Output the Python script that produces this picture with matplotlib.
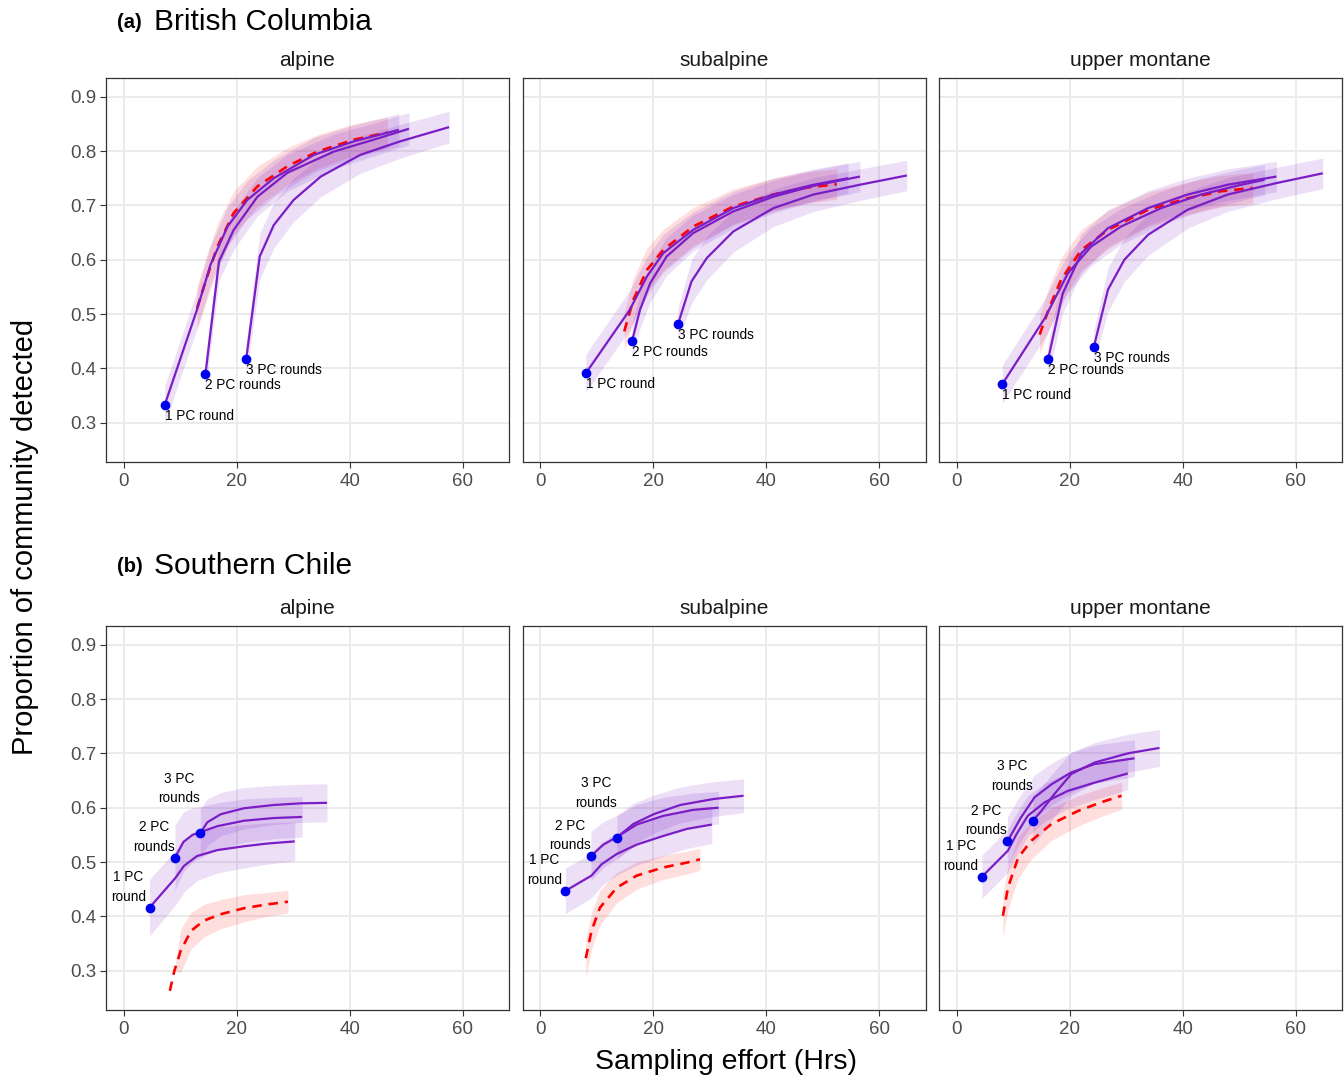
import numpy as np
import matplotlib
matplotlib.use("Agg")
import matplotlib.pyplot as plt

plt.rcParams['font.family'] = ['Liberation Sans', 'DejaVu Sans']

# ---------------- data ----------------
REGIONS = ["(a)", "(b)"]
REGION_NAMES = ["British Columbia", "Southern Chile"]
HABITATS = ["alpine", "subalpine", "upper montane"]
X_TICKS = [0, 20, 40, 60]
Y_TICKS = [0.3, 0.4, 0.5, 0.6, 0.7, 0.8, 0.9]
ROW_A_LABELS = ["1 PC round", "2 PC rounds", "3 PC rounds"]
ROW_B_LABELS = ["1 PC\nround", "2 PC\nrounds", "3 PC\nrounds"]

# (a) British Columbia - alpine
A_ALP_R1_X = [7.3, 13.0, 15.4, 18.4, 21.9, 26.6, 33.7, 40.8, 48.7]
A_ALP_R1_Y = [0.333, 0.508, 0.591, 0.661, 0.710, 0.750, 0.793, 0.818, 0.839]
A_ALP_R1_H = [0.035, 0.035, 0.036, 0.036, 0.035, 0.034, 0.032, 0.030, 0.030]
A_ALP_R2_X = [14.5, 16.9, 19.5, 23.7, 29.0, 37.2, 44.3, 50.5]
A_ALP_R2_Y = [0.390, 0.597, 0.655, 0.716, 0.760, 0.799, 0.821, 0.841]
A_ALP_R2_H = [0.030, 0.035, 0.036, 0.035, 0.034, 0.032, 0.030, 0.030]
A_ALP_R3_X = [21.7, 24.1, 26.6, 30.1, 34.9, 41.9, 49.0, 57.6]
A_ALP_R3_Y = [0.417, 0.606, 0.664, 0.710, 0.753, 0.793, 0.818, 0.844]
A_ALP_R3_H = [0.030, 0.042, 0.042, 0.040, 0.037, 0.034, 0.031, 0.029]
A_ALP_RD_X = [13.0, 14.8, 16.6, 19.5, 23.7, 29.0, 34.3, 40.8, 46.7]
A_ALP_RD_Y = [0.511, 0.569, 0.624, 0.686, 0.735, 0.772, 0.799, 0.821, 0.834]
A_ALP_RD_H = [0.040, 0.042, 0.042, 0.040, 0.037, 0.034, 0.031, 0.029, 0.028]

# (a) British Columbia - subalpine
A_SUB_R1_X = [8.1, 15.9, 18.9, 21.8, 27.1, 34.2, 41.3, 48.4, 54.5]
A_SUB_R1_Y = [0.391, 0.508, 0.569, 0.612, 0.655, 0.695, 0.720, 0.738, 0.750]
A_SUB_R1_H = [0.035, 0.036, 0.036, 0.035, 0.033, 0.031, 0.030, 0.029, 0.028]
A_SUB_R2_X = [16.3, 17.7, 19.5, 22.4, 27.1, 34.2, 41.3, 48.4, 56.6]
A_SUB_R2_Y = [0.451, 0.508, 0.557, 0.606, 0.649, 0.689, 0.716, 0.736, 0.753]
A_SUB_R2_H = [0.030, 0.034, 0.035, 0.035, 0.033, 0.031, 0.030, 0.029, 0.028]
A_SUB_R3_X = [24.4, 26.8, 29.5, 34.2, 41.3, 48.4, 56.6, 64.9]
A_SUB_R3_Y = [0.481, 0.560, 0.603, 0.652, 0.695, 0.720, 0.738, 0.755]
A_SUB_R3_H = [0.030, 0.040, 0.040, 0.038, 0.034, 0.031, 0.029, 0.028]
A_SUB_RD_X = [14.9, 16.5, 18.9, 21.8, 27.1, 34.2, 41.3, 46.6, 52.5]
A_SUB_RD_Y = [0.468, 0.526, 0.581, 0.618, 0.661, 0.698, 0.720, 0.732, 0.739]
A_SUB_RD_H = [0.035, 0.040, 0.040, 0.038, 0.035, 0.032, 0.030, 0.029, 0.028]

# (a) British Columbia - upper montane
A_UPM_R1_X = [8.1, 15.6, 19.7, 23.8, 29.1, 36.2, 43.3, 50.4, 54.5]
A_UPM_R1_Y = [0.371, 0.492, 0.575, 0.624, 0.661, 0.695, 0.720, 0.738, 0.747]
A_UPM_R1_H = [0.035, 0.036, 0.036, 0.035, 0.033, 0.031, 0.030, 0.029, 0.028]
A_UPM_R2_X = [16.2, 18.8, 22.1, 26.8, 33.9, 40.9, 48.0, 56.6]
A_UPM_R2_Y = [0.417, 0.538, 0.612, 0.658, 0.695, 0.720, 0.738, 0.753]
A_UPM_R2_H = [0.030, 0.036, 0.036, 0.034, 0.032, 0.030, 0.029, 0.028]
A_UPM_R3_X = [24.3, 26.8, 29.7, 33.9, 40.9, 48.0, 56.6, 64.8]
A_UPM_R3_Y = [0.440, 0.545, 0.600, 0.646, 0.692, 0.720, 0.741, 0.759]
A_UPM_R3_H = [0.030, 0.040, 0.040, 0.038, 0.034, 0.031, 0.029, 0.028]
A_UPM_RD_X = [14.7, 16.5, 18.5, 22.1, 26.8, 33.9, 40.9, 46.8, 52.4]
A_UPM_RD_Y = [0.462, 0.514, 0.563, 0.618, 0.655, 0.692, 0.713, 0.726, 0.732]
A_UPM_RD_H = [0.035, 0.040, 0.040, 0.038, 0.035, 0.032, 0.030, 0.029, 0.028]

# (b) Southern Chile - alpine
B_ALP_R1_X = [4.6, 9.2, 10.7, 13.0, 16.6, 21.3, 25.4, 30.3]
B_ALP_R1_Y = [0.416, 0.471, 0.493, 0.511, 0.522, 0.529, 0.534, 0.538]
B_ALP_R1_H = [0.052, 0.050, 0.048, 0.045, 0.042, 0.040, 0.038, 0.036]
B_ALP_R2_X = [9.1, 10.6, 12.2, 13.6, 16.6, 21.3, 26.6, 31.6]
B_ALP_R2_Y = [0.508, 0.537, 0.550, 0.555, 0.566, 0.576, 0.581, 0.583]
B_ALP_R2_H = [0.060, 0.055, 0.050, 0.047, 0.043, 0.040, 0.038, 0.037]
B_ALP_R3_X = [13.6, 14.8, 17.2, 21.3, 26.6, 31.3, 36.0]
B_ALP_R3_Y = [0.553, 0.573, 0.588, 0.599, 0.605, 0.608, 0.609]
B_ALP_R3_H = [0.045, 0.043, 0.040, 0.038, 0.036, 0.035, 0.035]
B_ALP_RD_X = [8.2, 9.0, 10.1, 11.9, 14.2, 17.2, 21.3, 25.4, 29.1]
B_ALP_RD_Y = [0.263, 0.300, 0.336, 0.373, 0.392, 0.404, 0.415, 0.422, 0.427]
B_ALP_RD_H = [0.000, 0.000, 0.040, 0.034, 0.030, 0.027, 0.025, 0.022, 0.021]

# (b) Southern Chile - subalpine
B_SUB_R1_X = [4.5, 9.1, 10.9, 13.6, 17.1, 21.8, 26.0, 30.4]
B_SUB_R1_Y = [0.447, 0.475, 0.496, 0.515, 0.532, 0.548, 0.561, 0.569]
B_SUB_R1_H = [0.042, 0.041, 0.040, 0.039, 0.038, 0.037, 0.036, 0.035]
B_SUB_R2_X = [9.0, 11.2, 13.6, 17.1, 21.8, 27.1, 31.6]
B_SUB_R2_Y = [0.511, 0.532, 0.546, 0.569, 0.585, 0.596, 0.600]
B_SUB_R2_H = [0.045, 0.042, 0.040, 0.037, 0.034, 0.031, 0.030]
B_SUB_R3_X = [13.6, 16.5, 20.1, 24.8, 30.7, 36.0]
B_SUB_R3_Y = [0.545, 0.570, 0.588, 0.605, 0.616, 0.622]
B_SUB_R3_H = [0.040, 0.038, 0.035, 0.033, 0.032, 0.031]
B_SUB_RD_X = [8.1, 9.1, 10.6, 13.6, 17.1, 21.8, 26.0, 28.3]
B_SUB_RD_Y = [0.323, 0.373, 0.416, 0.453, 0.475, 0.490, 0.499, 0.505]
B_SUB_RD_H = [0.035, 0.034, 0.032, 0.028, 0.025, 0.022, 0.021, 0.020]

# (b) Southern Chile - upper montane
B_UPM_R1_X = [4.5, 9.1, 10.6, 12.6, 15.6, 19.7, 24.4, 30.3]
B_UPM_R1_Y = [0.473, 0.521, 0.551, 0.585, 0.610, 0.631, 0.646, 0.663]
B_UPM_R1_H = [0.040, 0.040, 0.039, 0.037, 0.035, 0.033, 0.031, 0.030]
B_UPM_R2_X = [9.0, 11.4, 13.8, 16.8, 20.3, 24.4, 31.5]
B_UPM_R2_Y = [0.538, 0.582, 0.619, 0.643, 0.665, 0.680, 0.691]
B_UPM_R2_H = [0.045, 0.043, 0.041, 0.039, 0.037, 0.035, 0.034]
B_UPM_R3_X = [13.5, 15.0, 17.3, 20.3, 24.4, 30.3, 35.9]
B_UPM_R3_Y = [0.576, 0.594, 0.625, 0.662, 0.683, 0.700, 0.710]
B_UPM_R3_H = [0.045, 0.044, 0.042, 0.040, 0.037, 0.035, 0.034]
B_UPM_RD_X = [8.2, 9.1, 10.9, 13.2, 16.8, 21.5, 25.6, 29.2]
B_UPM_RD_Y = [0.401, 0.453, 0.508, 0.539, 0.570, 0.594, 0.610, 0.622]
B_UPM_RD_H = [0.040, 0.040, 0.038, 0.034, 0.030, 0.028, 0.026, 0.025]

PANELS = [
    [  # row a
        dict(rounds=[(A_ALP_R1_X, A_ALP_R1_Y, A_ALP_R1_H), (A_ALP_R2_X, A_ALP_R2_Y, A_ALP_R2_H), (A_ALP_R3_X, A_ALP_R3_Y, A_ALP_R3_H)],
             red=(A_ALP_RD_X, A_ALP_RD_Y, A_ALP_RD_H)),
        dict(rounds=[(A_SUB_R1_X, A_SUB_R1_Y, A_SUB_R1_H), (A_SUB_R2_X, A_SUB_R2_Y, A_SUB_R2_H), (A_SUB_R3_X, A_SUB_R3_Y, A_SUB_R3_H)],
             red=(A_SUB_RD_X, A_SUB_RD_Y, A_SUB_RD_H)),
        dict(rounds=[(A_UPM_R1_X, A_UPM_R1_Y, A_UPM_R1_H), (A_UPM_R2_X, A_UPM_R2_Y, A_UPM_R2_H), (A_UPM_R3_X, A_UPM_R3_Y, A_UPM_R3_H)],
             red=(A_UPM_RD_X, A_UPM_RD_Y, A_UPM_RD_H)),
    ],
    [  # row b
        dict(rounds=[(B_ALP_R1_X, B_ALP_R1_Y, B_ALP_R1_H), (B_ALP_R2_X, B_ALP_R2_Y, B_ALP_R2_H), (B_ALP_R3_X, B_ALP_R3_Y, B_ALP_R3_H)],
             red=(B_ALP_RD_X, B_ALP_RD_Y, B_ALP_RD_H)),
        dict(rounds=[(B_SUB_R1_X, B_SUB_R1_Y, B_SUB_R1_H), (B_SUB_R2_X, B_SUB_R2_Y, B_SUB_R2_H), (B_SUB_R3_X, B_SUB_R3_Y, B_SUB_R3_H)],
             red=(B_SUB_RD_X, B_SUB_RD_Y, B_SUB_RD_H)),
        dict(rounds=[(B_UPM_R1_X, B_UPM_R1_Y, B_UPM_R1_H), (B_UPM_R2_X, B_UPM_R2_Y, B_UPM_R2_H), (B_UPM_R3_X, B_UPM_R3_Y, B_UPM_R3_H)],
             red=(B_UPM_RD_X, B_UPM_RD_Y, B_UPM_RD_H)),
    ],
]

# ---------------- style ----------------
W, H = 1344, 1080
PURPLE = "#7A1DC6"
RED = "#FF0000"
BLUE = "#0000F0"
GRID = "#EBEBEB"
BORDER = "#333333"
TICKTXT = "#4D4D4D"

COL_LEFT = [106, 522.5, 939]
PANEL_W = 403
ROW_TOP = [78, 626]
PANEL_H = 383.5
XLIM = (-3.1, 68.2)
YLIM = (0.2286, 0.9344)

fig = plt.figure(figsize=(W / 100, H / 100), dpi=100)


def fx(px):
    return px / W


def fy(py):
    return 1 - py / H


for r in range(2):
    for c in range(3):
        ax = fig.add_axes([fx(COL_LEFT[c]), fy(ROW_TOP[r] + PANEL_H), PANEL_W / W, PANEL_H / H])
        ax.set_xlim(*XLIM)
        ax.set_ylim(*YLIM)
        ax.set_xticks(X_TICKS)
        ax.set_yticks(Y_TICKS)
        ax.set_xticklabels([str(v) for v in X_TICKS])
        ax.set_yticklabels([f"{v:.1f}" for v in Y_TICKS] if c == 0 else [])
        ax.grid(True, color=GRID, lw=1.4, zorder=0)
        ax.set_axisbelow(True)
        for s in ax.spines.values():
            s.set_color(BORDER)
            s.set_linewidth(0.9)
        ax.tick_params(axis='both', color=BORDER, width=0.8, length=4.5, labelcolor=TICKTXT, labelsize=13.5)
        ax.tick_params(axis='x', pad=4.0)
        ax.tick_params(axis='y', pad=2.5)
        if c > 0:
            ax.tick_params(axis='y', length=0)

        p = PANELS[r][c]
        # ribbons
        rx, ry, rh = (np.array(a, dtype=float) for a in p['red'])
        ax.fill_between(rx, ry - rh, ry + rh, color=RED, alpha=0.13, lw=0, zorder=1)
        for (x, y, h) in p['rounds']:
            x, y, h = np.array(x, float), np.array(y, float), np.array(h, float)
            ax.fill_between(x, y - h, y + h, color=PURPLE, alpha=0.14, lw=0, zorder=1)
        # lines
        ax.plot(rx, ry, color=RED, lw=1.9, dashes=(3.6, 2.6), zorder=3)
        for i, (x, y, h) in enumerate(p['rounds']):
            ax.plot(x, y, color=PURPLE, lw=1.6, zorder=4, solid_capstyle='butt')
        for i, (x, y, h) in enumerate(p['rounds']):
            ax.plot([x[0]], [y[0]], 'o', color=BLUE, ms=6, zorder=5)
            if r == 0:
                ax.annotate(ROW_A_LABELS[i], (x[0], y[0]), xytext=(0, -4), textcoords='offset pixels',
                            ha='left', va='top', fontsize=9.8, color='black', zorder=6)
            else:
                dy = 28 if i == 2 else 4
                ax.annotate(ROW_B_LABELS[i], (x[0], y[0]), xytext=(-21, dy), textcoords='offset pixels',
                            ha='center', va='bottom', fontsize=9.8, color='black', linespacing=1.5,
                            multialignment='center', zorder=6)

        # strip title
        fig.text(fx(COL_LEFT[c] + PANEL_W / 2), fy(ROW_TOP[r] - 17), HABITATS[c],
                 ha='center', va='center', fontsize=15, color='#1A1A1A')

# region titles
for r, (tag, name) in enumerate(zip(REGIONS, REGION_NAMES)):
    ycen = [22, 566][r]
    fig.text(fx(117), fy(ycen), tag, ha='left', va='center', fontsize=14.5, fontweight='bold')
    fig.text(fx(154), fy(ycen), name, ha='left', va='center', fontsize=21.5)

# axis labels
fig.text(fx(25), fy(537), "Proportion of community detected", rotation=90,
         ha='center', va='center', fontsize=21)
fig.text(fx(726), fy(1062), "Sampling effort (Hrs)", ha='center', va='center', fontsize=20.5)

fig.savefig("out.png", dpi=100)
